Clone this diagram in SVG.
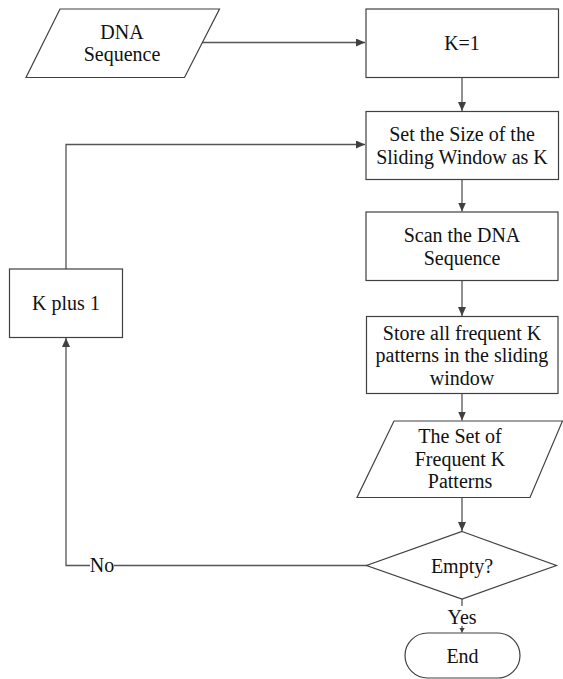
<svg xmlns="http://www.w3.org/2000/svg" width="563" height="679" viewBox="0 0 563 679">
<defs>
<marker id="arr" markerWidth="10" markerHeight="8" refX="9" refY="4" orient="auto" markerUnits="userSpaceOnUse">
<path d="M0,0 L9,4 L0,8 Z" fill="#404040"/>
</marker>
<marker id="arrs" markerWidth="6" markerHeight="6" refX="5" refY="3" orient="auto" markerUnits="userSpaceOnUse">
<path d="M0,0 L5,3 L0,6 Z" fill="#404040"/>
</marker>
</defs>
<style>
.s{fill:#fff;stroke:#404040;stroke-width:1.2}
.c{fill:none;stroke:#555;stroke-width:1.3}
.t{font-family:"Liberation Serif","Times New Roman",serif;font-size:20px;fill:#111;text-anchor:middle}
</style>
<rect width="563" height="679" fill="#fff"/>
<g id="connectors">
<path class="c" d="M202,42.5 H365" marker-end="url(#arr)"/>
<path class="c" d="M462,77.5 V111" marker-end="url(#arr)"/>
<path class="c" d="M462,179.5 V211.5" marker-end="url(#arr)"/>
<path class="c" d="M462,281 V316" marker-end="url(#arr)"/>
<path class="c" d="M462,393.5 V420.5" marker-end="url(#arr)"/>
<path class="c" d="M462,497.5 V531" marker-end="url(#arr)"/>
<path class="c" d="M462,599 V632.5" marker-end="url(#arrs)"/>
<path class="c" d="M367,565.5 H66 V338" marker-end="url(#arr)"/>
<path class="c" d="M66,269 V144.5 H365" marker-end="url(#arr)"/>
<rect x="90" y="555" width="24" height="20" fill="#fff"/>
<text class="t" x="102" y="572">No</text>
<rect x="447" y="606" width="30" height="20" fill="#fff"/>
<text class="t" x="462" y="624">Yes</text>
</g>
<g id="dna">
<polygon class="s" points="60,9 219.5,9 184.5,77.5 26,77.5"/>
<text class="t" x="122" y="38.5">DNA</text>
<text class="t" x="122" y="61">Sequence</text>
</g>
<g id="k1">
<rect class="s" x="366" y="9" width="192.5" height="68.5"/>
<text class="t" x="462" y="50">K=1</text>
</g>
<g id="setsize">
<rect class="s" x="366" y="111.5" width="192.5" height="68"/>
<text class="t" x="462" y="141">Set the Size of the</text>
<text class="t" x="462" y="163.5">Sliding Window as K</text>
</g>
<g id="scan">
<rect class="s" x="366" y="212" width="192" height="68.5"/>
<text class="t" x="462" y="242">Scan the DNA</text>
<text class="t" x="462" y="264.5">Sequence</text>
</g>
<g id="store">
<rect class="s" x="366.5" y="316.5" width="191.5" height="77"/>
<text class="t" x="462" y="339.5">Store all frequent K</text>
<text class="t" x="462" y="362">patterns in the sliding</text>
<text class="t" x="462" y="384.5">window</text>
</g>
<g id="setof">
<polygon class="s" points="394,421 562.5,421 530,497.5 357,497.5"/>
<text class="t" x="460" y="443">The Set of</text>
<text class="t" x="460" y="465.5">Frequent K</text>
<text class="t" x="460" y="488">Patterns</text>
</g>
<g id="empty">
<polygon class="s" points="462,531.5 556.5,565.5 462,599 366.5,565.5"/>
<text class="t" x="462" y="572.5">Empty?</text>
</g>
<g id="kplus">
<rect class="s" x="9.5" y="269" width="113" height="68.5"/>
<text class="t" x="66" y="310">K plus 1</text>
</g>
<g id="end">
<rect class="s" x="405" y="633" width="115" height="45" rx="22.5" ry="22.5"/>
<text class="t" x="462.5" y="662.5">End</text>
</g>
</svg>
